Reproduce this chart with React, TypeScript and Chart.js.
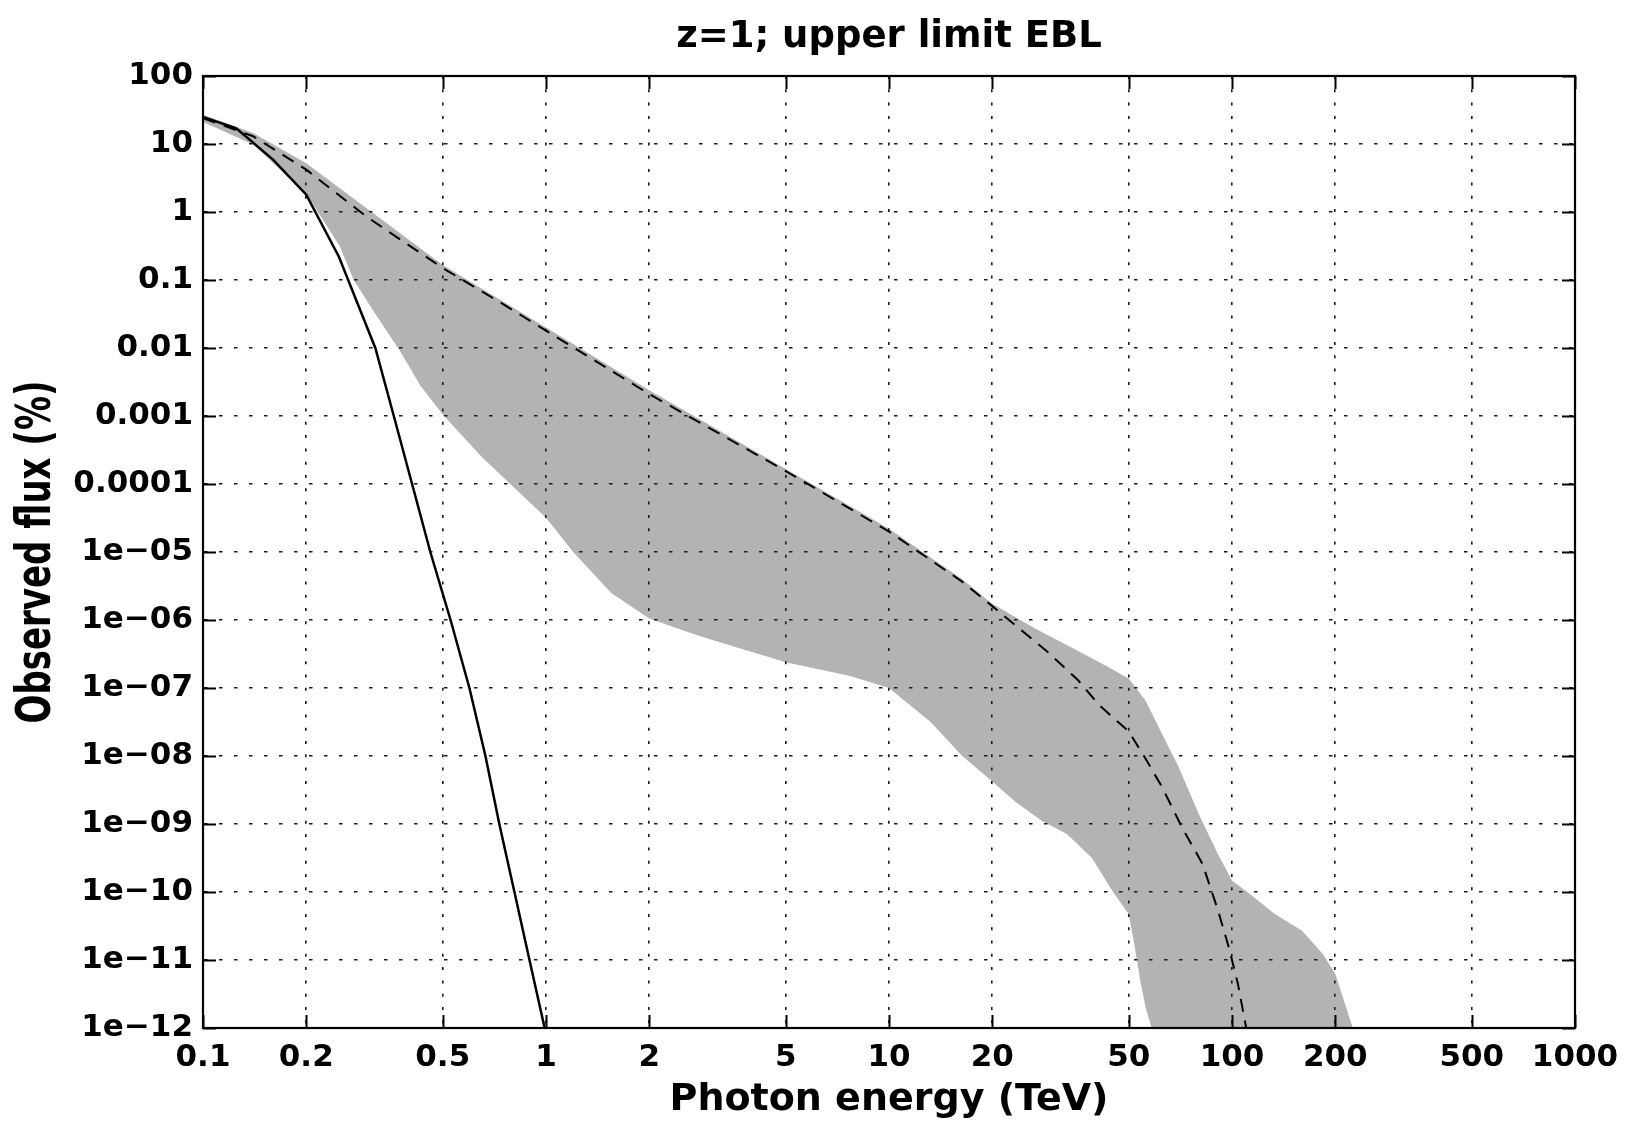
import React, { useEffect, useRef } from 'react';
import { Chart, registerables } from 'chart.js';

Chart.register(...registerables);

// ---------- text ----------
const titleText = 'z=1; upper limit EBL';
const xTitleText = 'Photon energy (TeV)';
const yTitleText = 'Observed flux (%)';

// ---------- ticks ----------
const xTicks = [0.1, 0.2, 0.5, 1, 2, 5, 10, 20, 50, 100, 200, 500, 1000];
const xTickLabels = ['0.1', '0.2', '0.5', '1', '2', '5', '10', '20', '50', '100', '200', '500', '1000'];
const yTicks = [1e-12, 1e-11, 1e-10, 1e-9, 1e-8, 1e-7, 1e-6, 1e-5, 1e-4, 1e-3, 1e-2, 1e-1, 1, 10, 100];
const yTickLabels = [
  '1e\u221212', '1e\u221211', '1e\u221210', '1e\u221209', '1e\u221208', '1e\u221207', '1e\u221206',
  '1e\u221205', '0.0001', '0.001', '0.01', '0.1', '1', '10', '100',
];

// ---------- data (photon energy in TeV, observed flux in %) ----------
// solid curve
const solidEnergy = [0.1, 0.125, 0.16, 0.2, 0.249, 0.318, 0.36, 0.407, 0.46, 0.527, 0.598, 0.666, 0.731, 0.809, 0.895, 0.991];
const solidFlux = [25, 17, 5.9, 1.8, 0.22, 0.01, 1e-3, 1e-4, 1e-5, 1e-6, 1e-7, 1e-8, 1e-9, 1e-10, 1e-11, 1e-12];

// dashed curve
const dashedEnergy = [0.1, 0.14, 0.2, 0.3, 0.5, 0.73, 1, 2, 5, 10, 16.3, 20, 23.4, 28.8, 35.6, 41, 50, 56, 62.5, 71.5, 82, 91, 98, 104, 110];
const dashedFlux = [24, 13, 4.2, 0.85, 0.15, 0.048, 0.018, 2.1e-3, 1.55e-4, 2.0e-5, 3.7e-6, 1.6e-6, 8.3e-7, 3.5e-7, 1.3e-7, 5.6e-8, 2.3e-8, 9.1e-9, 3.5e-9, 8.9e-10, 2.6e-10, 5.4e-11, 1.5e-11, 4.5e-12, 1e-12];

// grey band: upper edge
const bandUpperEnergy = [0.1, 0.14, 0.2, 0.5, 1, 2, 5, 10, 16.3, 20, 26.5, 35.6, 43.8, 50, 56, 64, 70, 80, 91, 100, 113, 133, 160, 184, 200, 225];
const bandUpperFlux = [27, 14.5, 5.2, 0.166, 0.02, 2.4e-3, 1.66e-4, 2.2e-5, 4e-6, 1.74e-6, 7.6e-7, 3.5e-7, 2e-7, 1.38e-7, 6.5e-8, 1.66e-8, 6.8e-9, 1.4e-9, 3.6e-10, 1.48e-10, 9.3e-11, 4.8e-11, 2.7e-11, 1.23e-11, 6.3e-12, 1e-12];

// grey band: lower edge
const bandLowerEnergy = [0.1, 0.14, 0.2, 0.25, 0.275, 0.314, 0.376, 0.43, 0.5, 0.65, 0.787, 1, 1.2, 1.55, 2, 2.8, 5, 7.7, 10, 13.2, 16.3, 20, 23.4, 28, 33, 39, 45, 50, 52, 54, 56, 58.3, 225];
const bandLowerFlux = [21, 9.8, 1.86, 0.32, 0.1, 0.035, 8.9e-3, 2.8e-3, 1.05e-3, 2.5e-4, 1e-4, 3.2e-5, 1e-5, 2.5e-6, 1.05e-6, 5.8e-7, 2.4e-7, 1.5e-7, 1e-7, 3.2e-8, 1.02e-8, 4.2e-9, 2.1e-9, 1.1e-9, 7.1e-10, 3.2e-10, 1e-10, 4.7e-11, 1.6e-11, 5e-12, 2e-12, 1e-12, 1e-12];

const FONT = "'DejaVu Sans', 'Liberation Sans', sans-serif";

const toPoints = (xs: number[], ys: number[]) => xs.map((x, i) => ({ x, y: ys[i] }));

const framePlugin = {
  id: 'frame',
  afterDraw(chart: any) {
    const { ctx, chartArea: a, scales } = chart;
    ctx.save();
    ctx.strokeStyle = '#000';
    ctx.lineWidth = 2;
    ctx.setLineDash([]);
    ctx.beginPath();
    const tl = 13;
    xTicks.forEach((v) => {
      const px = Math.round(scales.x.getPixelForValue(v)) + 0.5;
      ctx.moveTo(px, a.bottom);
      ctx.lineTo(px, a.bottom - tl);
      ctx.moveTo(px, a.top);
      ctx.lineTo(px, a.top + tl);
    });
    yTicks.forEach((v) => {
      const py = Math.round(scales.y.getPixelForValue(v)) + 0.5;
      ctx.moveTo(a.left, py);
      ctx.lineTo(a.left + tl, py);
      ctx.moveTo(a.right, py);
      ctx.lineTo(a.right - tl, py);
    });
    ctx.stroke();
    ctx.lineWidth = 2.2;
    ctx.strokeRect(a.left, a.top, a.right - a.left, a.bottom - a.top);

    // main title
    ctx.fillStyle = '#000';
    ctx.font = `bold 37px ${FONT}`;
    ctx.textAlign = 'center';
    ctx.textBaseline = 'alphabetic';
    ctx.fillText(titleText, (a.left + a.right) / 2, 47);

    // y axis title (rotated)
    ctx.translate(50, (a.top + a.bottom) / 2);
    ctx.rotate(-Math.PI / 2);
    ctx.scale(1, 1.4);
    ctx.font = `bold 34px ${FONT}`;
    ctx.fillText(yTitleText, 0, 0);
    ctx.restore();
  },
};

export default function App() {
  const canvasRef = useRef<HTMLCanvasElement | null>(null);

  useEffect(() => {
    const canvas = canvasRef.current;
    if (!canvas) return;
    const chart = new Chart(canvas, {
      type: 'line',
      data: {
        datasets: [
          {
            label: 'band upper',
            data: toPoints(bandUpperEnergy, bandUpperFlux),
            borderColor: 'transparent',
            borderWidth: 0,
            pointRadius: 0,
            backgroundColor: '#b3b3b3',
            fill: '+1',
            tension: 0,
          },
          {
            label: 'band lower',
            data: toPoints(bandLowerEnergy, bandLowerFlux),
            borderColor: 'transparent',
            borderWidth: 0,
            pointRadius: 0,
            backgroundColor: '#b3b3b3',
            fill: false,
            tension: 0,
          },
          {
            label: 'dashed',
            data: toPoints(dashedEnergy, dashedFlux),
            borderColor: '#000',
            borderWidth: 2,
            borderDash: [13, 9],
            pointRadius: 0,
            fill: false,
            tension: 0,
          },
          {
            label: 'solid',
            data: toPoints(solidEnergy, solidFlux),
            borderColor: '#000',
            borderWidth: 2.5,
            pointRadius: 0,
            fill: false,
            tension: 0,
          },
        ],
      },
      options: {
        animation: false,
        responsive: false,
        events: [],
        layout: { padding: { top: 76, right: 58, bottom: 0, left: 0 } },
        plugins: {
          legend: { display: false },
          title: { display: false },
          tooltip: { enabled: false },
          filler: { drawTime: 'beforeDraw' },
        },
        scales: {
          x: {
            type: 'logarithmic',
            min: 0.1,
            max: 1000,
            afterBuildTicks: (axis: any) => {
              axis.ticks = xTicks.map((v) => ({ value: v }));
            },
            afterFit: (axis: any) => {
              axis.height = 95;
            },
            grid: {
              color: '#1a1a1a',
              lineWidth: 1.6,
              drawTicks: false,
            },
            border: { display: true, color: '#000', width: 2, dash: [3, 10.3] },
            ticks: {
              autoSkip: false,
              maxRotation: 0,
              minRotation: 0,
              padding: 11,
              color: '#000',
              font: { family: FONT, weight: 'bold', size: 31 },
              callback: (_v: any, i: number) => xTickLabels[i],
            },
            title: {
              display: true,
              text: xTitleText,
              color: '#000',
              font: { family: FONT, weight: 'bold', size: 38 },
              padding: { top: 0, bottom: 0 },
            },
          },
          y: {
            type: 'logarithmic',
            min: 1e-12,
            max: 100,
            afterBuildTicks: (axis: any) => {
              axis.ticks = yTicks.map((v) => ({ value: v }));
            },
            afterFit: (axis: any) => {
              axis.width = 203;
            },
            grid: {
              color: '#1a1a1a',
              lineWidth: 1.6,
              drawTicks: false,
            },
            border: { display: true, color: '#000', width: 2, dash: [3.5, 11.5] },
            ticks: {
              autoSkip: false,
              padding: 10,
              color: '#000',
              font: { family: FONT, weight: 'bold', size: 31 },
              callback: (_v: any, i: number) => yTickLabels[i],
            },
          },
        },
      } as any,
      plugins: [framePlugin],
    });
    return () => chart.destroy();
  }, []);

  return (
    <div style={{ position: 'absolute', left: 0, top: 0, width: 1633, height: 1123, background: '#fff' }}>
      <canvas ref={canvasRef} width={1633} height={1123} style={{ display: 'block' }} />
    </div>
  );
}
